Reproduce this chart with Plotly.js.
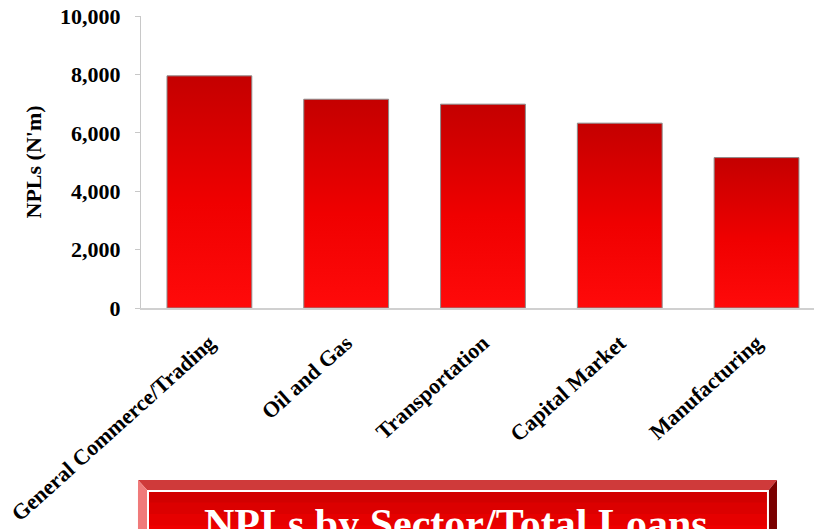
<!DOCTYPE html>
<html>
<head>
<meta charset="utf-8">
<script src="https://cdn.plot.ly/plotly-3.0.1.min.js"></script>
<style>html,body{margin:0;padding:0;background:#fff;}#chart{width:814px;height:529px;}</style>
</head>
<body>
<div id="chart"></div>
<script>
const categories = ["General Commerce/Trading", "Oil and Gas", "Transportation", "Capital Market", "Manufacturing"];
const nplValues = [7950, 7150, 6980, 6330, 5150];
const yTickValues = [0, 2000, 4000, 6000, 8000, 10000];
const yAxisTitle = "NPLs (N'm)";
const boxTitle = "NPLs by Sector/Total Loans";

// pixel -> paper helpers for decorative title box
const L = 141, R = 814, T = 16, B = 308;
const X = px => ((px - L) / (R - L)).toFixed(4);
const Y = py => ((B - py) / (B - T)).toFixed(4);

const font = {family: "Liberation Serif, Times New Roman, serif", size: 22, color: "#000", weight: "bold"};

const shapes = [];
// face bands (gradient approximation)
const bandCols = ["#d20000", "#dc0000", "#e60000", "#f00000", "#f80000", "#ff0000"];
const faceTop = 491, faceBot = 560;
const bandH = (faceBot - faceTop) / bandCols.length;
bandCols.forEach((c, i) => {
  shapes.push({type: "rect", xref: "paper", yref: "paper", layer: "above",
    x0: X(148), x1: X(768), y0: Y(faceTop + i * bandH), y1: Y(faceTop + (i + 1) * bandH + 0.5),
    fillcolor: c, line: {width: 0}});
});
shapes.push({type: "path", xref: "paper", yref: "paper", layer: "above",
  path: `M ${X(138)},${Y(480)} L ${X(777)},${Y(480)} L ${X(768)},${Y(491)} L ${X(148)},${Y(491)} Z`,
  fillcolor: "#cf3a3a", line: {width: 0}});
shapes.push({type: "path", xref: "paper", yref: "paper", layer: "above",
  path: `M ${X(138)},${Y(480)} L ${X(148)},${Y(491)} L ${X(148)},${Y(560)} L ${X(138)},${Y(560)} Z`,
  fillcolor: "#f07a7a", line: {width: 0}});
shapes.push({type: "path", xref: "paper", yref: "paper", layer: "above",
  path: `M ${X(777)},${Y(480)} L ${X(777)},${Y(560)} L ${X(768)},${Y(560)} L ${X(768)},${Y(491)} Z`,
  fillcolor: "#7a0000", line: {width: 0}});
shapes.push({type: "rect", xref: "paper", yref: "paper", layer: "above",
  x0: X(148), x1: X(768), y0: Y(491), y1: Y(560),
  fillcolor: "rgba(0,0,0,0)", line: {color: "#ffffff", width: 2}});

const data = [{
  type: "bar",
  x: categories,
  y: nplValues,
  marker: {color: "#e60000", line: {color: "#8c8c8c", width: 1}},
  hoverinfo: "x+y"
}];

const layout = {
  width: 814, height: 529,
  margin: {l: L, r: 814 - R, t: T, b: 529 - B},
  paper_bgcolor: "#fff", plot_bgcolor: "#fff",
  showlegend: false,
  bargap: 0.38,
  font: font,
  xaxis: {
    type: "category", range: [-0.5, 4.42],
    showline: true, linecolor: "#d0d0d0", linewidth: 1.5,
    ticks: "", tickangle: -42, tickfont: font, showgrid: false, zeroline: false,
    ticklabelstandoff: 12, automargin: false
  },
  yaxis: {
    range: [0, 10000], tickvals: yTickValues, tickformat: ",d",
    showline: true, linecolor: "#c8c8c8", linewidth: 1,
    ticks: "outside", ticklen: 5, tickcolor: "#c8c8c8",
    tickfont: font, showgrid: false, zeroline: false,
    ticklabelstandoff: 10, automargin: false,
    title: {text: yAxisTitle, font: font, standoff: 12}
  },
  shapes: shapes,
  annotations: [{
    xref: "paper", yref: "paper", x: X(456), y: Y(499), xanchor: "center", yanchor: "top",
    text: boxTitle, showarrow: false,
    font: {family: "Liberation Serif, Times New Roman, serif", size: 42, color: "#ffffff", weight: "bold"}
  }]
};

Plotly.newPlot("chart", data, layout, {displayModeBar: false, staticPlot: true}).then(gd => {
  const svg = gd.querySelector("svg.main-svg");
  const ns = "http://www.w3.org/2000/svg";
  let defs = svg.querySelector("defs");
  if (!defs) { defs = document.createElementNS(ns, "defs"); svg.insertBefore(defs, svg.firstChild); }
  const grad = document.createElementNS(ns, "linearGradient");
  grad.setAttribute("id", "barGrad");
  grad.setAttribute("x1", "0"); grad.setAttribute("y1", "0");
  grad.setAttribute("x2", "0"); grad.setAttribute("y2", "1");
  [["0", "#c40000"], ["0.55", "#f00000"], ["1", "#ff0a0a"]].forEach(([o, c]) => {
    const s = document.createElementNS(ns, "stop");
    s.setAttribute("offset", o); s.setAttribute("stop-color", c);
    grad.appendChild(s);
  });
  defs.appendChild(grad);
  gd.querySelectorAll(".bars .point path").forEach(p => { p.style.fill = "url(#barGrad)"; });
});
</script>
</body>
</html>
